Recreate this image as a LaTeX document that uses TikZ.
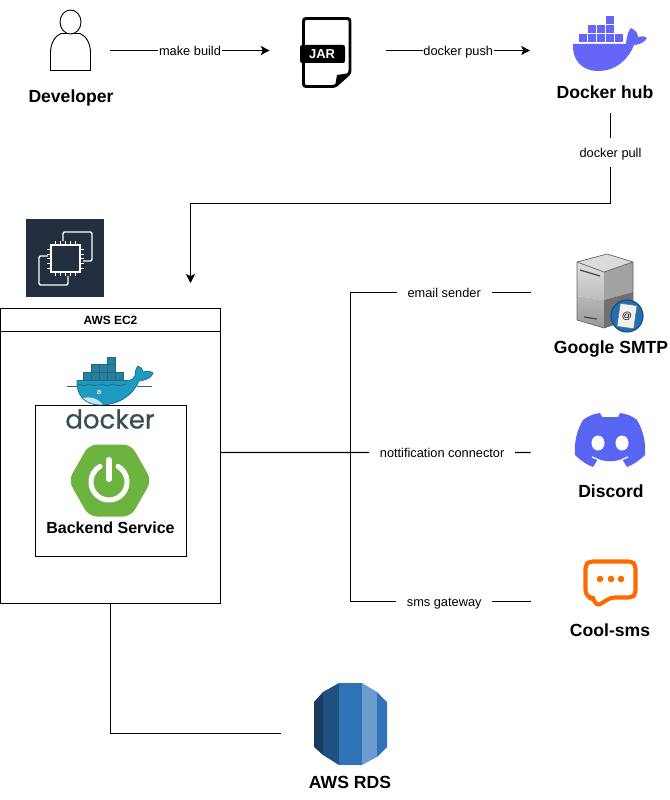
\documentclass[tikz,border=0pt]{standalone}
\usepackage{fontspec}
\setmainfont{Liberation Sans}
\newfontfamily\dockerfont[FakeBold=0.5]{Poppins}
\usetikzlibrary{arrows.meta,positioning}
\definecolor{ec2Navy}{HTML}{232F3E}
\definecolor{hubBlue}{HTML}{6366F8}
\definecolor{whaleBlue}{HTML}{1F9BC2}
\definecolor{whaleEdge}{HTML}{1D6A85}
\definecolor{crateTeal}{HTML}{2A7F9C}
\definecolor{dockerInk}{HTML}{394D54}
\definecolor{springGreen}{HTML}{6DB33F}
\definecolor{discordBlue}{HTML}{5865F2}
\definecolor{smsOrange}{HTML}{FF6A00}
\definecolor{rdsDeep}{HTML}{1A3A5F}
\definecolor{rdsDark}{HTML}{205081}
\definecolor{rdsMid}{HTML}{2E73B8}
\definecolor{rdsLight}{HTML}{6C9BCE}
\definecolor{badgeBlue}{HTML}{1F6FB5}
\definecolor{badgeEdge}{HTML}{134E80}
\begin{document}
\begin{tikzpicture}[
        x=0.025cm,
        y=-0.025cm,
        slot/.style={
            inner sep=0pt,
            minimum height=1cm
        },
        titletext/.style={
            font=\bfseries\fontsize{12.5}{14}\selectfont
        },
        linktext/.style={
            fill=white,
            text height=8.8pt,
            text depth=1pt,
            inner ysep=0pt,
            inner xsep=0.5pt,
            font=\fontsize{9.1}{11}\selectfont
        },
        gaptext/.style={
            linktext,
            inner xsep=7.6pt
        },
        flow/.style={
            -{Stealth[length=6.4pt,width=6.4pt,inset=1.5pt]},
            line width=0.72pt
        },
        link/.style={
            line width=0.72pt
        },
        frame/.style={
            draw,
            line width=0.72pt,
            fill=white,
            inner sep=0pt
        },
        crate/.style={
            fill=crateTeal,
            draw=whaleEdge,
            line width=0.5pt
        }
    ]
    \useasboundingbox (0,0) rectangle (669,800);

    % invisible slots round the icons, the connectors end on them
    \node[slot, minimum width=2cm] (developer) at (70,50.5) {};
    \node[slot, minimum width=2.9cm] (jar) at (328,50.5) {};
    \node[slot, minimum width=4cm, minimum height=3.125cm] (hub) at (610.5,50.5) {};
    \node[slot, minimum width=4cm] (smtp) at (611,292.5) {};
    \node[slot, minimum width=4cm] (discord) at (611,452.5) {};
    \node[slot, minimum width=4cm] (coolsms) at (611,601.5) {};
    \node[slot, minimum width=3.45cm] (rds) at (350,733.5) {};
    \coordinate (pullbend) at (610.5,203.5);
    \coordinate (ec2in) at (190.5,283);
    \coordinate (bus) at (350.5,452.5);

    % developer
    \draw[line width=0.65pt] (50.5,70.5) -- (50.5,53) .. controls (50.5,43) and (55,36) .. (61,33.5)
        -- (80,33.5) .. controls (86,36) and (90.5,43) .. (90.5,53) -- (90.5,70.5) -- cycle;
    \draw[line width=0.65pt, fill=white] (70.5,22) ellipse (10.5 and 12);
    \node[titletext] (developerlabel) at (71,98) {Developer};

    % jar file
    \draw[line width=2.1pt, rounded corners=1.8pt] (303.5,18.5) -- (350,18.5) -- (350,73) -- (335,86.5) -- (303.5,86.5) -- cycle;
    \fill (350,73) -- (337,75) -- (335,86.5) -- cycle;
    \fill[rounded corners=1.5pt] (300,45) rectangle (345,63);
    \node[text=white, font=\bfseries\fontsize{9.2}{11}\selectfont] (jarlabel) at (322,54.5) {JAR};

    % docker hub
    \foreach \bx/\by in {606/16.5,588/25.5,597/25.5,606/25.5,579/34.5,588/34.5,597/34.5,606/34.5,615/34.5}
        \fill[hubBlue] (\bx,\by) rectangle ++(8,8);
    \fill[hubBlue] (573,44) -- (626,44) .. controls (627,36) and (628,31) .. (631,28)
        .. controls (635,30) and (638,33) .. (638,37) .. controls (641,36) and (645,36) .. (647,38)
        .. controls (645,42) and (639,45) .. (634,45) .. controls (629,58) and (617,71) .. (598,71)
        .. controls (582,71) and (572,60) .. (573,44) -- cycle;
    \node[titletext] (hublabel) at (605,92) {Docker hub};

    % ec2 chip
    \fill[ec2Navy] (26,219) rectangle (104,297);
    \draw[white, line width=1pt, rounded corners=1pt] (63,241) -- (63,232) -- (92,232) -- (92,261) -- (83,261);
    \draw[white, line width=1pt, rounded corners=1pt] (48,256) -- (39,256) -- (39,285) -- (68,285) -- (68,276);
    \draw[white, line width=1pt] (51,245) rectangle (80,272);
    \foreach \pin in {55,60,65,70,75} {
        \draw[white, line width=0.7pt] (\pin,241) -- (\pin,245);
        \draw[white, line width=0.7pt] (\pin,272) -- (\pin,276);
    }
    \foreach \pin in {249,254,258.5,263,268} {
        \draw[white, line width=0.7pt] (47,\pin) -- (51,\pin);
        \draw[white, line width=0.7pt] (80,\pin) -- (84,\pin);
    }

    % ec2 box
    \node[frame, minimum width=5.5cm, minimum height=7.375cm] (ec2) at (110.5,456) {};
    \node[frame, minimum width=5.5cm, minimum height=0.575cm, font=\bfseries\fontsize{8.5}{10}\selectfont] (ec2title) at (110.5,320) {AWS EC2};
    \node[frame, minimum width=3.775cm, minimum height=3.775cm] (backend) at (111,481) {};

    % docker whale
    \foreach \bx/\by in {107/357,91/364.5,99/364.5,107/364.5,83/372.5,91/372.5,99/372.5,107/372.5,115/372.5}
        \draw[crate] (\bx,\by) rectangle ++(8,8);
    \draw[whaleEdge, line width=0.5pt] (67,386) -- (77,386) (137,386) -- (152,386);
    \draw[whaleEdge, fill=whaleBlue, line width=0.5pt] (77,380.5) -- (128,380.5) .. controls (131,380.5) and (134,379) .. (135,376)
        .. controls (135,372) and (136,368) .. (138,366) .. controls (141,367) and (143,369) .. (143,372)
        .. controls (146,371) and (151,371) .. (153,373) .. controls (152,377) and (147,380) .. (139,381)
        .. controls (132,397) and (117,405) .. (100,405) .. controls (84,405) and (76,394) .. (77,380.5) -- cycle;
    \fill[white!75!whaleBlue] (83,398) .. controls (90,396) and (97,398) .. (103,404.5) .. controls (95,405) and (88,403) .. (83,398) -- cycle;
    \draw[whaleEdge, line width=0.5pt] (78,384) .. controls (83,386) and (85,386) .. (89,384) .. controls (93,386) and (97,386) .. (101,384) .. controls (105,386) and (109,386) .. (113,384) .. controls (117,386) and (121,386) .. (126,384);
    \fill[white] (99,392) circle (2);
    \fill[whaleEdge] (99,392) circle (1);
    \node[text=dockerInk, inner sep=0pt, font=\dockerfont\fontsize{18.5}{20}\selectfont] (dockerlabel) at (110,419) {docker};

    % spring power icon
    \fill[springGreen, rounded corners=0.2cm] (68.5,480.5) -- (89,444.5) -- (131,444.5) -- (151.5,480.5) -- (131,516.5) -- (89,516.5) -- cycle;
    \draw[white, line width=3.6pt, line cap=round] (118,466.4) arc[start angle=-60, end angle=240, radius=18];
    \draw[white, line width=4.4pt, line cap=round] (109,460) -- (109,479);
    \node[font=\bfseries\fontsize{11.4}{13}\selectfont] (backendlabel) at (110.5,528) {Backend Service};

    % google smtp server
    \shade[top color=black!13, bottom color=black!26] (577,262) -- (604,272) -- (604,300) -- (577,296) -- cycle;
    \shade[top color=black!28, bottom color=black!40] (577,296) -- (604,300) -- (604,328) -- (577,320) -- cycle;
    \fill[black!36] (604,272) -- (633,262) -- (633,292) -- (604,300) -- cycle;
    \fill[black!56] (604,300) -- (633,292) -- (633,318) -- (604,328) -- cycle;
    \fill[black!14] (577,262) -- (607,254) -- (633,262) -- (604,272) -- cycle;
    \draw[black!60, line width=0.5pt, line join=round] (577,262) -- (607,254) -- (633,262) -- (633,318) -- (604,328) -- (577,320) -- cycle (577,262) -- (604,272) -- (633,262);
    \draw[black!70, line width=0.9pt] (580,270) -- (600,276) (584,317) -- (597,319);
    \draw[badgeEdge, fill=badgeBlue, line width=0.8pt] (627,316) circle (16);
    \node[fill=black!6, draw=black!55, line width=0.4pt, minimum width=0.42cm, minimum height=0.58cm, inner sep=0pt, rotate=-8, font=\fontsize{7}{8}\selectfont] (smtpdoc) at (627,316) {@};
    \node[titletext] (smtplabel) at (611,349) {Google SMTP};

    % discord
    \fill[discordBlue] (600,413) -- (602,417) -- (618,417) -- (620,413) .. controls (627,414) and (632,416) .. (637,420)
        .. controls (643,430) and (646,442) .. (645,455) .. controls (640,460) and (633,465) .. (627,467)
        -- (622,459) .. controls (614,462) and (606,462) .. (598,459) -- (593,467)
        .. controls (587,465) and (580,460) .. (575,455) .. controls (574,442) and (577,430) .. (583,420)
        .. controls (588,416) and (593,414) .. (600,413) -- cycle;
    \draw[white, line width=0.9pt] (592,457) -- (598,459.5) (628,457) -- (622,459.5);
    \fill[white] (598,443) ellipse (6.5 and 7.5);
    \fill[white] (622,443) ellipse (6.5 and 7.5);
    \node[titletext] (discordlabel) at (611,491) {Discord};

    % cool-sms bubble
    \draw[smsOrange, line width=2.9pt, line join=round, rounded corners=2.6pt] (593,598) -- (590,598) -- (585.5,594) -- (585.5,565) -- (589,561.5) -- (632,561.5) -- (635.5,565) -- (635.5,594) -- (632,597.5) -- (611,597.5) -- (597,606) -- cycle;
    \foreach \dotx in {600,611,621}
        \fill[smsOrange] (\dotx,579) circle (3.3);
    \node[titletext] (coolsmslabel) at (610,630) {Cool-sms};

    % rds cylinder
    \fill[rdsDeep] (314,702) -- (323,692) -- (323,755) -- (314,747) -- cycle;
    \fill[rdsDark] (323,692) -- (339,683) -- (339,765) -- (323,755) -- cycle;
    \fill[rdsMid] (339,683) rectangle (362,765);
    \fill[rdsLight] (362,683) -- (377,692) -- (377,757) -- (362,765) -- cycle;
    \fill[rdsMid] (377,692) -- (387,702) -- (387,747) -- (377,757) -- cycle;
    \node[titletext] (rdslabel) at (350,782) {AWS RDS};

    % connectors
    \draw[flow] (developer.east) -- node[linktext] {make build} (jar.west);
    \draw[flow] (jar.east) -- node[linktext] {docker push} (hub.west);
    \draw[flow] (hub.south) -- node[linktext, pos=0.43, inner ysep=5.4pt] {docker pull} (pullbend) -| (ec2in);
    \draw[link] (bus) |- node[gaptext, pos=0.76] {email sender} (smtp.west);
    \draw[link] (bus) |- node[gaptext, pos=0.76] {sms gateway} (coolsms.west);
    \draw[link] ([yshift=0.0875cm]ec2.east) -- node[gaptext, pos=0.714] {nottification connector} (discord.west);
    \draw[link] (ec2.south) |- (rds.west);

\end{tikzpicture}
\end{document}
